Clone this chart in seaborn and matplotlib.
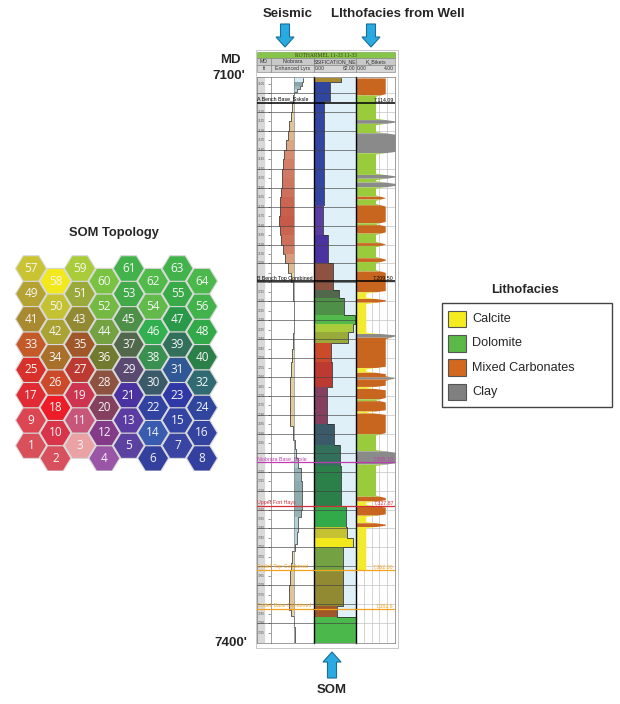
import numpy as np
import matplotlib
matplotlib.use("Agg")
import matplotlib.pyplot as plt
import matplotlib.transforms as mtransforms
from matplotlib.patches import Rectangle, FancyArrow
from matplotlib.colors import LinearSegmentedColormap
import seaborn as sns

# SOM topology: 8 x 8 neurons, numbered 1..64 from bottom-left
som_ids = list(range(1, 65))
som_colors = [
    "#d9505a", "#d8505e", "#eba2a4", "#9a55a6", "#5c42a0", "#34409e", "#3a44a2", "#33409f",
    "#dc4652", "#d8344a", "#c8567a", "#843a88", "#5a3ca2", "#3a5cb0", "#3444a2", "#3442a0",
    "#e02a34", "#ec1c28", "#cc3450", "#84405e", "#4a32a0", "#3242a0", "#3038a6", "#30469e",
    "#d8302a", "#cc4a2a", "#bc3a32", "#8e5240", "#5a4a72", "#3a5a6a", "#305894", "#306a72",
    "#c45a28", "#a8702a", "#a0582a", "#727a30", "#52684c", "#3a9050", "#32705c", "#2a8048",
    "#aa8a30", "#aaa232", "#928a32", "#74a242", "#4e9048", "#32b050", "#2a9a4a", "#32aa4a",
    "#b4a232", "#c4c232", "#9aaa3a", "#74ba42", "#42aa48", "#62ba4a", "#3aaa48", "#42b24a",
    "#cac432", "#f2e81c", "#aacc3a", "#7ac242", "#42b24a", "#52ba4a", "#42b24a", "#4ab84a",
]

# SOM classification log (interval tops in ft MD, winning neuron)
som_top = [7102, 7104, 7114, 7169, 7185, 7200, 7214, 7218, 7227, 7232, 7236, 7242,
           7252, 7265, 7285, 7296, 7307, 7328, 7339, 7345, 7350, 7363, 7381, 7387]
som_class = [41, 24, 15, 13, 21, 28, 37, 45, 62, 59, 51, 26,
             27, 20, 30, 39, 40, 48, 50, 58, 44, 43, 35, 64]
som_base = 7400.5

# seismic attribute trace (Niobrara Enhanced Lyrs)
seis_depth = [7102, 7104, 7106, 7108, 7109.5, 7111, 7115, 7120, 7125, 7130, 7135, 7140,
              7145, 7150, 7155, 7160, 7165, 7170, 7175, 7180, 7185, 7190, 7195, 7200,
              7205, 7210, 7220, 7230, 7237, 7245, 7252, 7260, 7270, 7280, 7286, 7293,
              7298, 7303, 7308, 7315, 7322, 7330, 7334, 7342, 7348, 7352, 7358, 7362,
              7370, 7378, 7383, 7386, 7392, 7398, 7400.5]
seis_amp = [9, 8, 6, 3, 0, -1.5, -2, -3.5, -5, -6.5, -8, -10.5,
            -11.5, -12, -12.5, -13, -14, -14.5, -15, -14, -13, -11.5, -9, -6,
            -3, -1.5, -0.5, -0.5, -1.5, -2.5, -3, -4, -4.5, -4, -1.5, 0.5,
            2, 4, 6.5, 7.5, 7.5, 6.5, 3.5, 3, 1, -2, -3, -4.5,
            -5, -5, -3, 0, 0.5, 1, 1]

# lithofacies from well: 1 calcite, 2 dolomite, 3 mixed carbonates, 4 clay
lith_names = ["Calcite", "Dolomite", "Mixed Carbonates", "Clay"]
lith_legend_colors = ["#f4ec1e", "#5cb848", "#d2691e", "#808080"]
lith_track_colors = ["#f2ea2e", "#9acb3c", "#c8661f", "#8a8a8a"]
lith_top = [7102, 7111, 7124, 7126, 7131, 7141.5, 7153, 7155, 7157, 7159.5, 7164.5, 7166,
            7169, 7178.5, 7179.5, 7184, 7189, 7190.5, 7197, 7199, 7204, 7215, 7218.5,
            7220.5, 7237, 7239, 7255, 7257.5, 7260, 7261, 7265, 7266, 7271.5, 7272.5,
            7278, 7279, 7290, 7299, 7306, 7323, 7325.5, 7328, 7333, 7337, 7339]
lith_code = [3, 2, 4, 2, 4, 2, 4, 2, 4, 2, 3, 2,
             3, 2, 3, 2, 3, 2, 3, 2, 3, 1, 3,
             1, 4, 3, 1, 3, 4, 3, 1, 3, 2, 3,
             1, 3, 2, 4, 2, 3, 1, 3, 1, 3, 1]
lith_base = 7362

# formation tops
tops_name = ["A Bench Base_Ssksle", "B Bench Top Combined", "Niobrara Base_Sksle",
             "Upper Fort Hays", "Codell Top Combined", "Codell Base Combined"]
tops_depth = [7115, 7209.5, 7305, 7328, 7362, 7382.5]
tops_value = ["7,114.09", "7,209.50", "7,305.10", "7,327.87", "7,362.00", "7,382.6"]
tops_color = ["black", "black", "#c23ab0", "#d62f3c", "#f7a21b", "#f7a21b"]

sns.set_theme(style="white")
plt.rcParams["font.family"] = ["Liberation Sans", "DejaVu Sans"]

W, H = 620, 704
fig = plt.figure(figsize=(W / 100, H / 100), dpi=100)


def box(x0, y0, x1, y1):
    return [x0 / W, 1 - y1 / H, (x1 - x0) / W, (y1 - y0) / H]


ov = fig.add_axes([0, 0, 1, 1])
ov.set_xlim(0, W)
ov.set_ylim(H, 0)
ov.axis("off")

# ---- SOM topology hex map ----
hx = fig.add_axes(box(11.5, 250.8, 221.5, 470.9))
hx.set_xlim(-0.8, 7.8)
hx.set_ylim(-1.0, 7.7)
hx.axis("off")
ang = np.deg2rad(np.arange(0, 360, 60))
for n, col in zip(som_ids, som_colors):
    r, c = divmod(n - 1, 8)
    cx, cy = c, r - 0.5 * (c % 2)
    hx.fill(cx + 0.634 * np.cos(ang), cy + 0.584 * np.sin(ang), fc=col, ec="#d8d8d8", lw=0.8)
    hx.text(cx, cy, str(n), ha="center", va="center", color="#f6f6f6",
            fontsize=8.5, family=["Open Sans", "DejaVu Sans"])
ov.text(114, 233, "SOM Topology", ha="center", va="center", fontsize=9.3, fontweight="bold")

# ---- well log tracks ----
D0, D1 = 7101.5, 7400.5
y0, y1 = 77, 643
ax_md = fig.add_axes(box(257, y0, 271, y1))
ax_sei = fig.add_axes(box(271, y0, 314, y1))
ax_som = fig.add_axes(box(314, y0, 356, y1))
ax_lit = fig.add_axes(box(356, y0, 395, y1))
tracks = [ax_md, ax_sei, ax_som, ax_lit]

# depth track (labels that would sit under a formation-top label are left out)
ax_md.set_xlim(0, 1)
ax_md.axvspan(0, 0.5, color="#d9d9d9", zorder=0)
for d in range(7105, 7400, 5):
    ax_md.plot([0.82, 1], [d, d], color="#555555", lw=0.4)
    if min(abs(d - t + 2) for t in tops_depth) < 3.5:
        continue
    ax_md.text(0.08, d, str(d), fontsize=2.3, color="#555555", va="center")

# seismic trace
neg_cmap = LinearSegmentedColormap.from_list("neg", ["#eeecca", "#e2d0a0", "#dcac86", "#d4826a", "#c65a48"])
pos_cmap = LinearSegmentedColormap.from_list("pos", ["#d4ecf4", "#aecdd2", "#88a6a8"])


def seis_color(a):
    if a < 0:
        return neg_cmap(min(-a / 15, 1))
    return pos_cmap(min(a / 8, 1))


for i in range(len(seis_depth) - 1):
    ax_sei.fill_betweenx([seis_depth[i], seis_depth[i + 1]], 0, seis_amp[i],
                         color=seis_color(seis_amp[i]), lw=0)
sns.lineplot(x=seis_amp, y=seis_depth, orient="y", estimator=None, sort=False,
             drawstyle="steps-pre", color="#4a4a4a", lw=0.6, ax=ax_sei)
ax_sei.axvline(0, color="#8a8a8a", lw=0.5)
ax_sei.set_xlim(-23, 20)

# SOM classification
ax_som.set_facecolor("#dff0f8")
tops = np.array(som_top, dtype=float)
bots = np.append(tops[1:], som_base)
ax_som.barh((tops + bots) / 2, som_class, height=bots - tops, left=0,
            color=[som_colors[k - 1] for k in som_class], lw=0)
ax_som.plot(np.append(som_class, som_class[-1]), np.append(tops, som_base),
            drawstyle="steps-pre", color="#333333", lw=0.6)
ax_som.set_xlim(0, 63)

# lithofacies
ax_lit.set_xlim(0, 4)
lt = np.array(lith_top, dtype=float)
lb = np.append(lt[1:], lith_base)
pts_d, pts_x = [], []
for t, b, c in zip(lt, lb, lith_code):
    r = min(0.7, (b - t) / 2)
    pts_d += [t + r, b - r]
    pts_x += [c, c]
dd = np.arange(lt[0], lith_base + 0.01, 0.05)
xc = np.interp(dd, pts_d, pts_x)
for t, b, c in zip(lt, lb, lith_code):
    m = (dd >= t) & (dd <= b)
    ax_lit.fill_betweenx(dd[m], 0, xc[m], color=lith_track_colors[c - 1], lw=0, zorder=2)
for v in np.arange(0.8, 4, 0.8):
    ax_lit.axvline(v, color="#c4c4c4", lw=0.5, zorder=0.5)

# grid and frames
for d in range(7110, 7400, 10):
    for a in (ax_md, ax_sei, ax_som):
        a.axhline(d, color="#404040", lw=0.45, zorder=3)
    ax_lit.axhline(d, color="#c4c4c4", lw=0.5, zorder=0.5)

for a in tracks:
    a.set_ylim(D1, D0)
    a.set_xticks([])
    a.set_yticks([])
    a.set_xlabel("")
    a.set_ylabel("")
    for s in a.spines.values():
        s.set_visible(True)
        s.set_color("#777777")
        s.set_linewidth(0.5)
for a in (ax_som, ax_lit):
    a.spines["left"].set_color("black")
    a.spines["left"].set_linewidth(1.0)

# formation tops (labels on a transparent top layer so no track hides them)
top_layer = fig.add_axes([0, 0, 1, 1], zorder=10)
top_layer.axis("off")
lab_tf = mtransforms.blended_transform_factory(ax_md.transAxes, ax_md.transData)
for name, d, val, col in zip(tops_name, tops_depth, tops_value, tops_color):
    for a in tracks:
        a.axhline(d, color=col, lw=1.1 if col == "black" else 0.9, zorder=4)
    top_layer.text(0.02, d - 0.4, name, transform=lab_tf, color=col,
                   fontsize=3.8, va="bottom", clip_on=False)
    ax_lit.text(0.97, d - 0.4, val, transform=ax_lit.get_yaxis_transform(), color=col,
                fontsize=3.8, va="bottom", ha="right", zorder=5)

# log header
ov.add_patch(Rectangle((257, 52), 138, 6, fc="#86c44a", ec="#6a9a3a", lw=0.4))
ov.text(326, 55.2, "ROTHARMEL 11-33 11-33", ha="center", va="center", fontsize=4,
        color="#3a3a10", family=["Liberation Serif", "DejaVu Serif"])
cells = [(257, 271), (271, 314), (314, 356), (356, 395)]
row1 = ["MD", "Niobrara", "SSIFICATION_NE", "K_Bikets"]
for (xa, xb), lab in zip(cells, row1):
    ov.add_patch(Rectangle((xa, 58), xb - xa, 7, fc="#c9c9c9", ec="#7a7a7a", lw=0.4))
    ov.add_patch(Rectangle((xa, 65), xb - xa, 7, fc="#d6d6d6", ec="#7a7a7a", lw=0.4))
    ov.text((xa + xb) / 2, 61.6, lab, ha="center", va="center", fontsize=3.8, color="#333333")
ov.text(264, 68.6, "ft", ha="center", va="center", fontsize=3.8, color="#333333")
ov.text(292.5, 68.6, "Enhanced Lyrs", ha="center", va="center", fontsize=3.8, color="#333333")
for (xa, xb), hi in zip(cells[2:], ["62.00", "4.00"]):
    ov.text(xa + 1, 68.6, "0.00", ha="left", va="center", fontsize=3.6, color="#333333")
    ov.text(xb - 1, 68.6, hi, ha="right", va="center", fontsize=3.6, color="#333333")
ov.add_patch(Rectangle((255.5, 50), 142, 598, fill=False, ec="#c0c0c0", lw=0.6))

# annotations
arrow_kw = dict(width=9, head_width=18, head_length=10, length_includes_head=True,
                fc="#29abe2", ec="#1b6d99", lw=0.8)
ov.add_patch(FancyArrow(285, 24, 0, 23, **arrow_kw))
ov.add_patch(FancyArrow(371, 24, 0, 23, **arrow_kw))
ov.add_patch(FancyArrow(332, 678, 0, -26, **arrow_kw))
ov.text(263, 14, "Seismic", ha="left", va="center", fontsize=9.5, fontweight="bold")
ov.text(331, 14, "LIthofacies from Well", ha="left", va="center", fontsize=9.5, fontweight="bold")
ov.text(332, 690, "SOM", ha="center", va="center", fontsize=9.5, fontweight="bold")
ov.text(230, 60, "MD", ha="center", va="center", fontsize=9.5, fontweight="bold")
ov.text(229, 76, "7100'", ha="center", va="center", fontsize=9.5, fontweight="bold")
ov.text(231, 643, "7400'", ha="center", va="center", fontsize=9.5, fontweight="bold")

# legend
ov.text(525, 290, "Lithofacies", ha="center", va="center", fontsize=9.3, fontweight="bold")
ov.add_patch(Rectangle((442, 303), 170, 104, fill=False, ec="#444444", lw=1.0))
for i, (name, col) in enumerate(zip(lith_names, lith_legend_colors)):
    yc = 319 + i * 24.3
    ov.add_patch(Rectangle((448, yc - 8.3), 18, 16.6, fc=col, ec="#555555", lw=0.8))
    ov.text(472, yc, name, ha="left", va="center", fontsize=9.1)

fig.savefig("out.png", dpi=100)
